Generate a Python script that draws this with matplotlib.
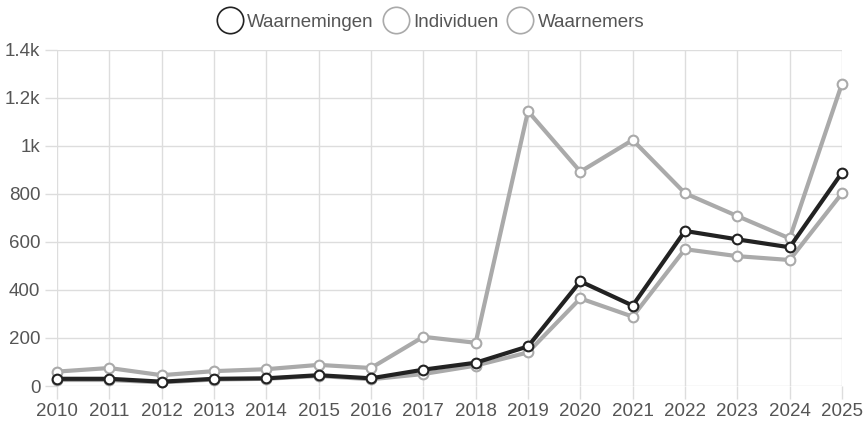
import matplotlib.pyplot as plt
from matplotlib.lines import Line2D

years = list(range(2010, 2026))
waarnemingen = [30, 30, 18, 30, 32, 45, 32, 68, 97, 165, 436, 335, 646, 611, 578, 889]
individuen = [60, 75, 45, 62, 70, 88, 75, 205, 180, 1145, 893, 1025, 803, 708, 615, 1260]
waarnemers = [25, 25, 15, 27, 30, 42, 28, 50, 85, 140, 365, 289, 570, 541, 525, 803]
y_ticks = [0, 200, 400, 600, 800, 1000, 1200, 1400]
y_labels = ['0', '200', '400', '600', '800', '1k', '1.2k', '1.4k']

plt.rcParams['font.family'] = ['Liberation Sans', 'DejaVu Sans']

fig = plt.figure(figsize=(8.63, 4.23), dpi=100)
ax = fig.add_axes([57 / 863, 1 - 386 / 423, 785 / 863, 336 / 423])

grid_c = '#dddddd'
black = '#222222'
gray = '#aaaaaa'
text_c = '#555555'

for vals, col, z in [(waarnemers, gray, 3), (individuen, gray, 4), (waarnemingen, black, 5)]:
    ax.plot(years, vals, color=col, lw=3, marker='o', ms=7, mfc='white',
            mec=col, mew=1.5, zorder=z, clip_on=False)

ax.set_xlim(2010, 2025)
ax.set_ylim(0, 1400)
ax.set_xticks(years)
ax.set_xticklabels([str(y) for y in years])
ax.set_yticks(y_ticks)
ax.set_yticklabels(y_labels)
ax.grid(True, color=grid_c, lw=1)
ax.set_axisbelow(True)
for s in ax.spines.values():
    s.set_visible(False)
ax.tick_params(axis='both', colors=grid_c, labelcolor=text_c, labelsize=13.5,
               length=9, width=1, pad=3)

handles = [
    Line2D([], [], ls='none', marker='o', ms=19, mfc='none', mec=black, mew=1.2),
    Line2D([], [], ls='none', marker='o', ms=19, mfc='none', mec=gray, mew=1.2),
    Line2D([], [], ls='none', marker='o', ms=19, mfc='none', mec=gray, mew=1.2),
]
fig.legend(handles, ['Waarnemingen', 'Individuen', 'Waarnemers'], loc='center',
           bbox_to_anchor=(431 / 863, 1 - 22 / 423), ncol=3, frameon=False,
           fontsize=13.5, labelcolor=text_c, handletextpad=0.3,
           columnspacing=0.5, handlelength=1.3)

fig.savefig('out.png', dpi=100)
